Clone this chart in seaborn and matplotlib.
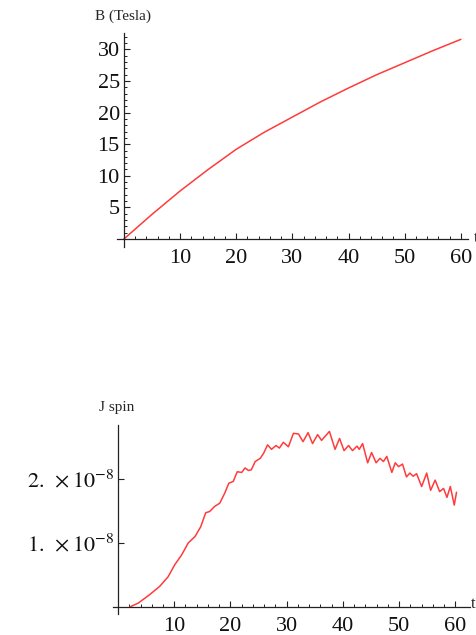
import numpy as np
import pandas as pd
import matplotlib
matplotlib.use("Agg")
import matplotlib.pyplot as plt
from matplotlib.ticker import FixedLocator, NullFormatter
import seaborn as sns

# ---- data ----
b_t = [0, 5, 10, 15, 20, 25, 30, 35, 40, 45, 50, 55, 60]
b_tesla = [0, 3.9, 7.6, 11.0, 14.2, 16.9, 19.3, 21.7, 23.9, 26.0, 27.9, 29.8, 31.6]

j_t = [2.1, 3.6, 5.6, 7.4, 8.9, 10.1, 11.3, 12.5, 13.7, 14.7, 15.6, 16.3, 17.2, 18.1,
       19.0, 19.7, 20.5, 21.2, 22.0, 22.6, 23.2, 23.7, 24.4, 25.3, 25.9, 26.6, 27.3,
       28.1, 28.7, 29.4, 30.3, 31.2, 32.1, 32.9, 33.8, 34.6, 35.5, 36.2, 37.6, 38.6,
       39.4, 40.2, 41.0, 41.7, 42.5, 42.9, 43.5, 44.4, 45.1, 45.9, 46.6, 47.2, 47.8,
       48.7, 49.3, 49.9, 50.6, 51.3, 51.9, 52.5, 53.1, 54.0, 54.9, 55.6, 56.4, 57.2,
       57.9, 58.5, 59.1, 59.8, 60.2]
j_spin_e8 = [0, 0.06, 0.19, 0.32, 0.47, 0.66, 0.81, 1.0, 1.10, 1.25, 1.47, 1.49, 1.57, 1.62,
             1.78, 1.93, 1.96, 2.11, 2.10, 2.17, 2.13, 2.14, 2.27, 2.32, 2.40, 2.53, 2.46,
             2.52, 2.48, 2.57, 2.50, 2.71, 2.70, 2.58, 2.72, 2.55, 2.69, 2.60, 2.74, 2.46,
             2.63, 2.44, 2.52, 2.44, 2.51, 2.46, 2.55, 2.25, 2.41, 2.25, 2.32, 2.27, 2.35,
             2.10, 2.25, 2.19, 2.23, 2.03, 2.09, 2.04, 2.08, 1.88, 2.09, 1.82, 1.98, 1.80,
             1.85, 1.71, 1.88, 1.59, 1.79]

x_major = [10, 20, 30, 40, 50, 60]
x_labels = ["10", "20", "30", "40", "50", "60"]
b_major = [5, 10, 15, 20, 25, 30]
b_labels = ["5", "10", "15", "20", "25", "30"]
j_major = [1e-8, 2e-8]
j_labels = [r"$1.\;\times10^{-8}$", r"$2.\;\times10^{-8}$"]

# ---- style ----
sns.set_style("white")
plt.rcParams["font.family"] = ["Liberation Serif", "DejaVu Serif"]
plt.rcParams["mathtext.fontset"] = "stix"

LINE = "#ff3b3b"
AXC = "#222222"

fig = plt.figure(figsize=(4.76, 6.35), dpi=100)
ax1 = fig.add_axes([0.245, 0.6117, 0.7374, 0.3363])
ax2 = fig.add_axes([0.238, 0.0331, 0.7494, 0.2976])

df_b = pd.DataFrame({"t": b_t, "B": b_tesla})
df_j = pd.DataFrame({"t": j_t, "J": np.array(j_spin_e8) * 1e-8})

sns.lineplot(data=df_b, x="t", y="B", ax=ax1, color=LINE, lw=1.1, estimator=None, sort=False)
sns.lineplot(data=df_j, x="t", y="J", ax=ax2, color=LINE, lw=1.1, estimator=None, sort=False)

ax1.set_xlim(-1.3, 61.2)
ax1.set_ylim(-1.2, 32.6)
ax2.set_xlim(-0.84, 62.6)
ax2.set_ylim(-0.11e-8, 2.84e-8)


def style(ax, ymaj, ylab, yminor):
    for s in ["top", "right"]:
        ax.spines[s].set_visible(False)
    for s in ["left", "bottom"]:
        ax.spines[s].set_position(("data", 0))
        ax.spines[s].set_color(AXC)
        ax.spines[s].set_linewidth(0.9)
    ax.set_xlabel("")
    ax.set_ylabel("")
    ax.set_xticks(x_major)
    ax.set_xticklabels(x_labels)
    ax.set_yticks(ymaj)
    ax.set_yticklabels(ylab)
    ax.xaxis.set_minor_locator(FixedLocator([v for v in range(2, 61, 2) if v % 10]))
    ax.yaxis.set_minor_locator(FixedLocator(yminor))
    ax.xaxis.set_minor_formatter(NullFormatter())
    ax.yaxis.set_minor_formatter(NullFormatter())
    ax.tick_params(which="both", bottom=True, left=True, top=False, right=False)
    ax.tick_params(which="major", direction="in", length=4.3, width=0.8, color=AXC,
                   labelsize=16, labelcolor="#111111")
    ax.tick_params(which="minor", direction="in", length=2.4, width=0.7, color=AXC)
    ax.tick_params(axis="x", which="major", pad=7.5)
    ax.tick_params(axis="y", which="major", pad=3)
    ax.grid(False)
    ax.set_facecolor("none")


style(ax1, b_major, b_labels, [v for v in range(1, 33) if v % 5])
style(ax2, j_major, j_labels, [])

fig.text(123 / 476, 1 - 16 / 635, "B (Tesla)", ha="center", va="center", fontsize=11)
fig.text(117 / 476, 1 - 407 / 635, "J spin", ha="center", va="center", fontsize=11)
fig.text(474 / 476, 1 - 238 / 635, "t", ha="left", va="center", fontsize=12)
fig.text(471 / 476, 1 - 604 / 635, "t", ha="left", va="center", fontsize=12)

fig.savefig("out.png", dpi=100)
